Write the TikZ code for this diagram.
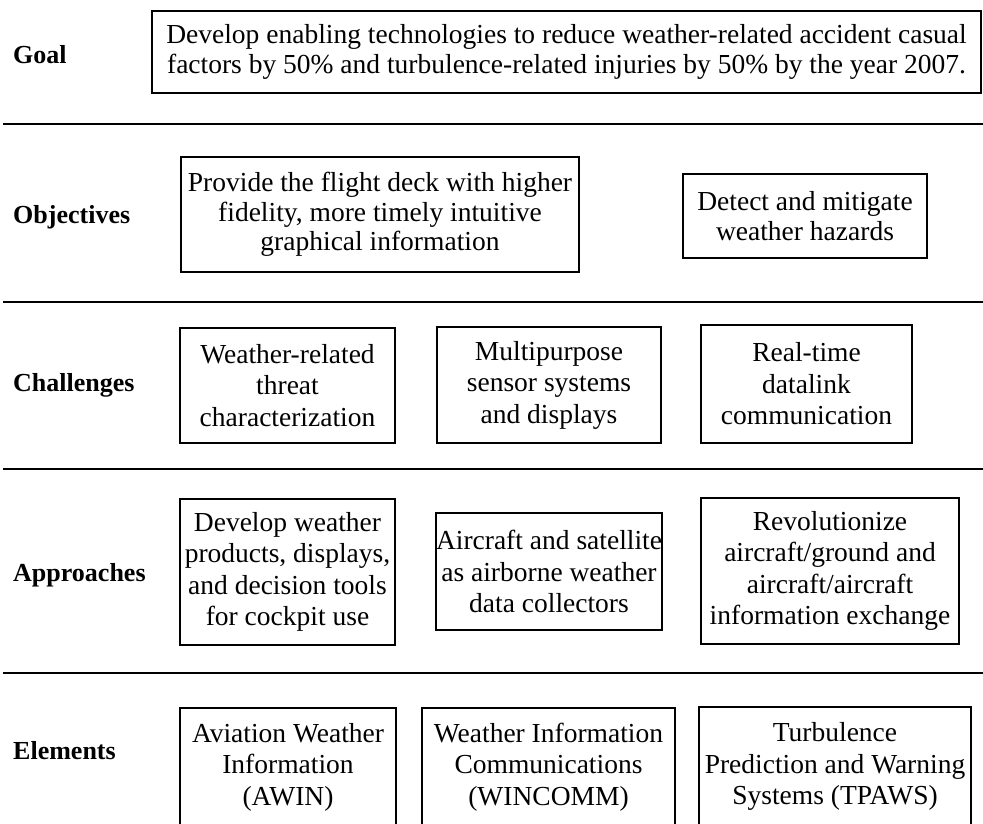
\documentclass[tikz,border=0pt]{standalone}
\usepackage{fontspec}
\setmainfont{Liberation Serif}
\begin{document}
\begin{tikzpicture}[x=1pt,y=-1pt,
  rowlabel/.style={anchor=base west,inner sep=0pt,font=\fontsize{26}{30}\selectfont\bfseries},
  tbox/.style={draw=black,line width=1.7pt,inner sep=0pt,align=center,
    font=\fontsize{27.5}{31.5}\selectfont},
  tboxs/.style={tbox,font=\fontsize{27.5}{29.5}\selectfont},
  sepline/.style={line width=2.8pt,black}]
\useasboundingbox (0,0) rectangle (983,823);
\clip (0,0) rectangle (983,823);

% separators
\coordinate (l1a) at (3,124); \coordinate (l1b) at (983,124);
\coordinate (l2a) at (3,302); \coordinate (l2b) at (983,302);
\coordinate (l3a) at (3,469); \coordinate (l3b) at (983,469);
\coordinate (l4a) at (3,673); \coordinate (l4b) at (983,673);
\draw[sepline] (l1a) -- (l1b);
\draw[sepline] (l2a) -- (l2b);
\draw[sepline] (l3a) -- (l3b);
\draw[sepline] (l4a) -- (l4b);

% row labels
\node[rowlabel] (lgoal) at (13,63) {Goal};
\node[rowlabel] (lobj) at (13,223) {Objectives};
\node[rowlabel] (lchal) at (13,391) {Challenges};
\node[rowlabel] (lapp) at (13,581) {Approaches};
\node[rowlabel] (lelem) at (13,759) {Elements};

% goal
\node[tboxs,minimum width=829pt,minimum height=82pt] (goal) at (566.5,52)
  {Develop enabling technologies to reduce weather-related accident casual\\
   factors by 50\% and turbulence-related injuries by 50\% by the year 2007.};

% objectives
\node[tboxs,minimum width=398pt,minimum height=115pt] (obj1) at (380,214.5)
  {Provide the flight deck with higher\\fidelity, more timely intuitive\\graphical information};
\node[tboxs,minimum width=244pt,minimum height=84pt] (obj2) at (805,216)
  {Detect and mitigate\\weather hazards};

% challenges
\node[tbox,minimum width=215pt,minimum height=115pt] (ch1) at (287.5,385.5)
  {Weather-related\\threat\\characterization};
\node[tbox,minimum width=224pt,minimum height=116pt] (ch2) at (549,385)
  {Multipurpose\\sensor systems\\and displays};
\node[tbox,minimum width=211pt,minimum height=118pt] (ch3) at (806.5,384)
  {Real-time\\datalink\\communication};

% approaches
\node[tbox,minimum width=215pt,minimum height=146pt] (ap1) at (287.5,572)
  {Develop weather\\products, displays,\\and decision tools\\for cockpit use};
\node[tbox,minimum width=224pt,minimum height=117pt] (ap2) at (549,571.5)
  {Aircraft and satellite\\as airborne weather\\data collectors};
\node[tbox,minimum width=258pt,minimum height=146pt] (ap3) at (830,571)
  {Revolutionize\\aircraft/ground and\\aircraft/aircraft\\information exchange};

% elements
\node[tbox,minimum width=216pt,minimum height=118pt] (el1) at (288,767)
  {Aviation Weather\\Information\\(AWIN)};
\node[tbox,minimum width=253pt,minimum height=118pt] (el2) at (548.5,767)
  {Weather Information\\Communications\\(WINCOMM)};
\node[tbox,minimum width=272pt,minimum height=119pt] (el3) at (835,766.5)
  {Turbulence\\Prediction and Warning\\Systems (TPAWS)};
\end{tikzpicture}
\end{document}
